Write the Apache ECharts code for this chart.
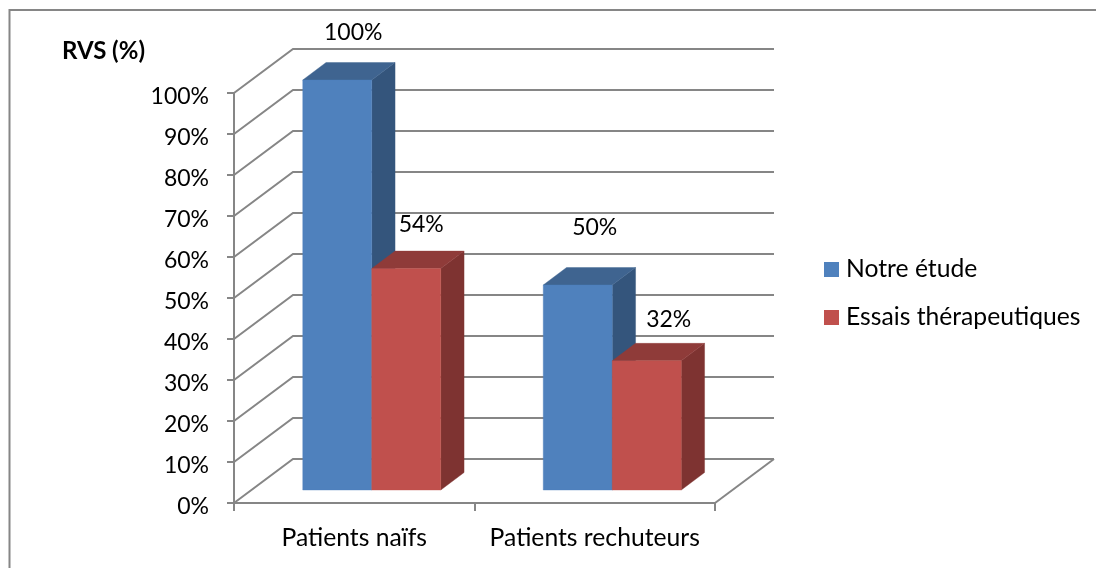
<!DOCTYPE html>
<html>
<head>
<meta charset="utf-8">
<style>html,body{margin:0;padding:0;background:#fff}#c{width:1096px;height:568px}</style>
<script src="https://cdn.jsdelivr.net/npm/echarts@6/dist/echarts.min.js"></script>
</head>
<body>
<div id="c"></div>
<script>
const categories = ['Patients naïfs', 'Patients rechuteurs'];
const notreEtude = [100, 50];
const essais = [54, 31.5];
const yTicks = [0, 10, 20, 30, 40, 50, 60, 70, 80, 90, 100];
const seriesNames = ['Notre étude', 'Essais thérapeutiques'];

const FONT = 'Lato';
const TXT = '#000000';
const LINE = '#868686';
const LW = 2;
// 3D projection, in pixels
const WALL_DX = 59, WALL_DY = -44;
const BAR_W = 69, BAR_SHIFT_X = 17.5, BAR_SHIFT_Y = -13, BAR_DX = 23.3, BAR_DY = -17.5;
// label nudges from the bar's front top centre: [series][category]
const LABEL_NUDGE = [[[16, -47.5], [17, -57]], [[15, -44], [22, -41]]];

const chart = echarts.init(document.getElementById('c'), null, {renderer: 'canvas'});

function wallItem(params, api) {
  const v = api.value(1);
  const cs = params.coordSys;
  const y = api.coord([0, v])[1];
  const x0 = cs.x, x1 = cs.x + cs.width;
  const children = [{
    type: 'polyline',
    shape: {points: [[x0, y], [x0 + WALL_DX, y + WALL_DY], [x1 + WALL_DX, y + WALL_DY]]},
    style: {stroke: LINE, lineWidth: LW, fill: null}
  }];
  if (v === 0) {
    children.push({
      type: 'line',
      shape: {x1: x1, y1: y, x2: x1 + WALL_DX, y2: y + WALL_DY},
      style: {stroke: LINE, lineWidth: LW}
    });
  }
  return {type: 'group', children};
}

function barRenderer(si, front, side, top) {
  return function (params, api) {
    const c = api.value(0), v = api.value(1);
    const p = api.coord([c, v]);
    const base = api.coord([c, 0]);
    const xL = p[0] - BAR_W + si * BAR_W + BAR_SHIFT_X;
    const xR = xL + BAR_W;
    const yT = p[1] + BAR_SHIFT_Y;
    const yB = base[1] + BAR_SHIFT_Y;
    const poly = (pts, col) => ({
      type: 'polygon', shape: {points: pts},
      style: {fill: col, stroke: col, lineWidth: 0.4}
    });
    const nudge = LABEL_NUDGE[si][c];
    return {
      type: 'group',
      children: [
        poly([[xR, yT], [xR + BAR_DX, yT + BAR_DY], [xR + BAR_DX, yB + BAR_DY], [xR, yB]], side),
        poly([[xL, yT], [xL + BAR_DX, yT + BAR_DY], [xR + BAR_DX, yT + BAR_DY], [xR, yT]], top),
        poly([[xL, yT], [xR, yT], [xR, yB], [xL, yB]], front),
        {
          type: 'text',
          style: {
            x: (xL + xR) / 2 + nudge[0], y: yT + nudge[1],
            text: Math.round(v) + '%',
            font: '23px ' + FONT, fill: TXT, align: 'center', verticalAlign: 'middle'
          }
        }
      ]
    };
  };
}

chart.setOption({
  animation: false,
  backgroundColor: '#ffffff',
  title: {
    text: 'RVS (%)', left: 57, top: 34,
    textStyle: {fontFamily: FONT, fontSize: 24, fontWeight: 'bold', color: TXT}
  },
  legend: {
    orient: 'vertical', left: 824, top: 257, padding: 0,
    icon: 'rect', itemWidth: 15, itemHeight: 15, itemGap: 23, selectedMode: false,
    data: seriesNames,
    textStyle: {fontFamily: FONT, fontSize: 24.7, color: TXT, padding: [1, 0, 0, 2]}
  },
  grid: {left: 234, right: 381, top: 93, bottom: 65, containLabel: false},
  xAxis: {
    type: 'category', data: categories,
    axisLine: {lineStyle: {color: LINE, width: LW}},
    axisTick: {show: true, interval: 0, length: 8, lineStyle: {color: LINE, width: LW}, alignWithLabel: false},
    axisLabel: {fontFamily: FONT, fontSize: 24.7, color: TXT, margin: 23, interval: 0, hideOverlap: false},
    splitLine: {show: false}
  },
  yAxis: {
    type: 'value', min: 0, max: 100, interval: 10,
    axisLine: {show: true, lineStyle: {color: LINE, width: LW}},
    axisTick: {show: true, length: 7, lineStyle: {color: LINE, width: LW}},
    axisLabel: {
      color: TXT, margin: 25,
      formatter: v => '{t|' + v + '%}',
      rich: {t: {fontFamily: FONT, fontSize: 23, color: TXT, padding: [8, 0, 0, 0]}}
    },
    splitLine: {show: false}
  },
  graphic: [{
    type: 'rect', silent: true, z: -10,
    shape: {x: 9.5, y: 10, width: 2000, height: 2000},
    style: {fill: null, stroke: LINE, lineWidth: LW}
  }],
  series: [
    {
      type: 'custom', name: 'walls', silent: true, z: 1,
      renderItem: wallItem, encode: {x: 0, y: 1},
      data: yTicks.map(t => [0, t])
    },
    {
      type: 'custom', name: seriesNames[0], z: 3,
      itemStyle: {color: '#4F81BD'},
      renderItem: barRenderer(0, '#4F81BD', '#34557C', '#3F6490'),
      encode: {x: 0, y: 1},
      data: notreEtude.map((v, i) => [i, v])
    },
    {
      type: 'custom', name: seriesNames[1], z: 3,
      itemStyle: {color: '#C0504D'},
      renderItem: barRenderer(1, '#C0504D', '#7E3331', '#8F3B39'),
      encode: {x: 0, y: 1},
      data: essais.map((v, i) => [i, v])
    }
  ]
});
</script>
</body>
</html>
